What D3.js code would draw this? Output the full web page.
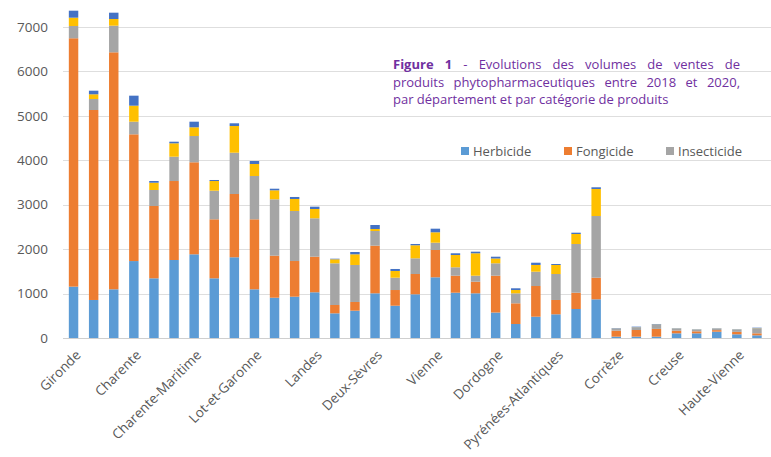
<!DOCTYPE html>
<html><head><meta charset="utf-8">
<script src="https://cdn.jsdelivr.net/npm/d3@7"></script>
<style>
body{margin:0;background:#fff}
svg{display:block}
text{font-family:"Open Sans",sans-serif}
</style>
</head><body>
<svg id="chart" width="771" height="457"></svg>
<script>
const departements = ["Gironde","Charente","Charente-Maritime","Lot-et-Garonne","Landes","Deux-Sèvres","Vienne","Dordogne","Pyrénées-Atlantiques","Corrèze","Creuse","Haute-Vienne"];
const annees = ["2018","2019","2020"];
const yTicks = [0,1000,2000,3000,4000,5000,6000,7000];

// one value per bar (departement x annee), last bar lies outside the picture
const herbicide   = [1155,855,1095, 1730,1342,1754, 1882,1342,1815, 1095,906,929, 1028,555,614, 1005,726,983, 1365,1019,1005, 573,315,479, 533,652,870, 30,30,30, 105,105,142, 83,60];
const fongicide   = [5585,4272,5329, 2850,1626,1776, 2069,1327,1423, 1574,945,802, 800,187,196, 1071,353,456, 614,382,261, 828,465,690, 322,367,486, 135,150,175, 60,45,35, 55,45];
const insecticide = [276,247,599, 284,360,547, 591,643,929, 974,1268,1125, 864,938,832, 330,277,353, 164,189,135, 279,225,322, 584,1095,1387, 40,55,95, 40,35,30, 45,110];
const autres      = [187,106,150, 360,164,301, 196,218,600, 270,202,270, 209,90,240, 45,151,293, 234,276,504, 108,74,151, 203,225,608, 5,5,5, 5,4,4, 5,5];
const divers      = [157,81,142, 225,38,36, 126,23,61, 67,36,45, 52,13,52, 90,45,29, 81,39,36, 40,39,51, 22,29,38, 10,15,10, 8,7,7, 8,12];

const seriesKeys = ["Herbicide","Fongicide","Insecticide","Autres","Divers"];
const seriesValues = [herbicide,fongicide,insecticide,autres,divers];
const seriesColors = ["#5B9BD5","#ED7D31","#A5A5A5","#FFC000","#4472C4"];
const legendKeys = ["Herbicide","Fongicide","Insecticide"];

const titleLines = [
  [{t:"Figure 1",b:true},{t:" - Evolutions des volumes de ventes de",b:false}],
  [{t:"produits phytopharmaceutiques entre 2018 et 2020,",b:false}],
  [{t:"par département et par catégorie de produits",b:false}]
];

const svg = d3.select("#chart");
const W = 771;
const slots = [];
departements.forEach(d => annees.forEach(a => slots.push(d + " " + a)));

const rows = herbicide.map((_, i) => {
  const r = {slot: slots[i]};
  seriesKeys.forEach((k, j) => r[k] = seriesValues[j][i]);
  return r;
});

const x = d3.scaleBand().domain(slots).range([63.5, 63.5 + slots.length * 20.1]).paddingInner(0.53).paddingOuter(0.265);
const y = d3.scaleLinear().domain([0, 7000]).range([338, 26.7]);

// gridlines
svg.append("g").selectAll("line").data(yTicks).join("line")
  .attr("x1", 63).attr("x2", W)
  .attr("y1", d => Math.round(y(d)) + 0.5).attr("y2", d => Math.round(y(d)) + 0.5)
  .attr("stroke", d => d === 0 ? "#CFCFCF" : "#DEDEDE").attr("stroke-width", 1);

// y tick labels
svg.append("g").selectAll("text").data(yTicks).join("text")
  .attr("x", 48).attr("y", d => y(d)).attr("dy", "0.36em")
  .attr("text-anchor", "end").attr("font-size", 13.5).attr("fill", "#595959")
  .text(d => d);

// stacked bars
const stacked = d3.stack().keys(seriesKeys)(rows);
svg.append("g").selectAll("g").data(stacked).join("g")
  .attr("fill", (d, i) => seriesColors[i])
  .selectAll("rect").data(d => d).join("rect")
  .attr("x", d => x(d.data.slot))
  .attr("width", x.bandwidth())
  .attr("y", d => y(d[1]))
  .attr("height", d => Math.max(0, y(d[0]) - y(d[1])));

// x labels (one per departement, at its first bar)
svg.append("g").selectAll("text").data(departements).join("text")
  .attr("transform", d => `translate(${x(d + " " + annees[0]) + x.bandwidth() / 2 + 8},356) rotate(-45)`)
  .attr("text-anchor", "end").attr("font-size", 13.5).attr("fill", "#595959")
  .text(d => d);

// title (justified)
const titleX = 393, titleW = 347, titleY = [69, 87, 104];
titleLines.forEach((line, li) => {
  const t = svg.append("text").attr("x", titleX).attr("y", titleY[li])
    .attr("font-size", 13).attr("fill", "#7030A0");
  line.forEach(p => t.append("tspan").attr("font-weight", p.b ? "bold" : "normal").text(p.t));
  if (li < 2) {
    const w = t.node().getComputedTextLength();
    const n = line.map(p => p.t).join("").split(" ").length - 1;
    t.style("word-spacing", ((titleW - w) / n) + "px");
  }
});

// legend
const legX = [461, 564, 666];
const leg = svg.append("g").selectAll("g").data(legendKeys).join("g")
  .attr("transform", (d, i) => `translate(${legX[i]},151)`);
leg.append("rect").attr("x", 0).attr("y", -4).attr("width", 8).attr("height", 8)
  .attr("fill", d => seriesColors[seriesKeys.indexOf(d)]);
leg.append("text").attr("x", 12).attr("dy", "0.36em").attr("font-size", 13)
  .attr("fill", "#595959").text(d => d);
</script>
</body></html>
